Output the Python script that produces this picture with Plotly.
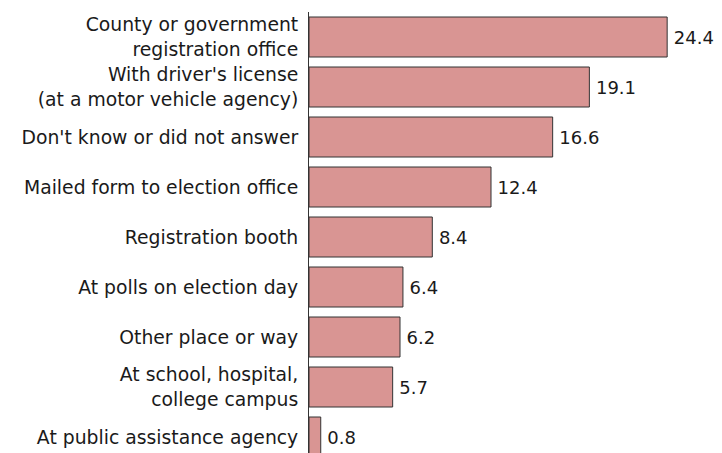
import plotly.graph_objects as go

categories = [
    "County or government<br>registration office",
    "With driver's license<br>(at a motor vehicle agency)",
    "Don't know or did not answer",
    "Mailed form to election office",
    "Registration booth",
    "At polls on election day",
    "Other place or way",
    "At school, hospital,<br>college campus",
    "At public assistance agency",
]
values = [24.4, 19.1, 16.6, 12.4, 8.4, 6.4, 6.2, 5.7, 0.8]
value_labels = ["24.4", "19.1", "16.6", "12.4", "8.4", "6.4", "6.2", "5.7", "0.8"]

FONT = "DejaVu Sans"

fig = go.Figure(
    go.Bar(
        y=categories,
        x=values,
        orientation="h",
        width=0.8,
        marker=dict(color="#d99593", line=dict(color="#333333", width=1)),
        text=["\u2009" + t for t in value_labels],
        textposition="outside",
        textfont=dict(family=FONT, size=18, color="#1a1a1a"),
        cliponaxis=False,
    )
)

fig.update_layout(
    width=722,
    height=453,
    margin=dict(l=301, r=10, t=4, b=8, autoexpand=False),
    paper_bgcolor="white",
    plot_bgcolor="white",
    showlegend=False,
    font=dict(family=FONT, size=18, color="#1a1a1a"),
)
fig.update_xaxes(range=[0, 28], visible=False, showgrid=False, zeroline=False)
fig.update_yaxes(
    type="category",
    categoryorder="array",
    categoryarray=categories,
    range=[8.32, -0.5],
    automargin=False,
    showline=True,
    linecolor="#333333",
    linewidth=1,
    showgrid=False,
    zeroline=False,
    ticks="",
    ticklabelstandoff=6,
    tickfont=dict(family=FONT, size=18.8, color="#1a1a1a"),
)

fig.write_html("out.html")
